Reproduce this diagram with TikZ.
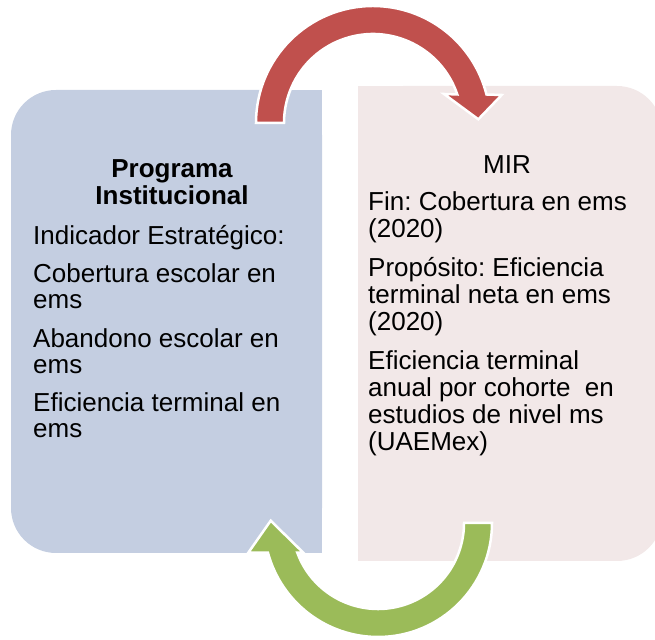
\documentclass[tikz,border=0pt]{standalone}
\usepackage{fontspec}
\setmainfont{Liberation Sans}
\frenchspacing
\definecolor{progblue}{RGB}{196,206,225}
\definecolor{mirpink}{RGB}{242,232,232}
\definecolor{arrowred}{RGB}{192,80,77}
\definecolor{arrowgreen}{RGB}{155,187,89}
\tikzset{
  panel/.style = {rounded corners=45pt},
  cyclearrow/.style = {draw=white, line width=2.5pt, line join=miter},
  headtext/.style = {font=\fontsize{26}{27}\selectfont, align=center, inner sep=0pt, anchor=base},
  bodytext/.style = {align=left, inner sep=0pt, anchor=base west},
}

\begin{document}
\begin{tikzpicture}[x=1pt, y=1pt]
\clip (0,0) rectangle (655,639);

% Programa Institucional panel (left, rounded on the left)
\fill[progblue, panel] (11,86) rectangle (322,549);
\fill[progblue] (200,86) rectangle (322,549);

% MIR panel (right, rounded on the right)
\fill[mirpink, panel] (358,78) rectangle (662,553);
\fill[mirpink] (358,78) rectangle (500,553);

% texts (base = last line)
\node[headtext, font=\fontsize{26}{27}\selectfont\bfseries] (proghead) at (172,434) {Programa\\Institucional};
\node[bodytext, font=\fontsize{26}{26.3}\selectfont] (progbody) at (33,201)
  {Indicador Estratégico:\\[12pt]
   Cobertura escolar en\\ems\\[12pt]
   Abandono escolar en\\ems\\[12pt]
   Eficiencia terminal en\\ems};

\node[headtext] (mirhead) at (507,465) {MIR};
\node[bodytext, font=\fontsize{26}{27}\selectfont] (mirbody) at (368,188)
  {Fin: Cobertura en ems\\(2020)\\[12pt]
   Propósito: Eficiencia\\terminal neta en ems\\(2020)\\[12pt]
   Eficiencia terminal\\anual por cohorte~ en\\estudios de nivel ms\\(UAEMex)};

% Top arrow: left to right
\coordinate (redc) at (373,516);
\filldraw[cyclearrow, fill=arrowred]
  (256,516) arc[start angle=180, end angle=14.1, radius=117]
  -- (501.7,544) -- (478.3,519.7) -- (444,545)
  -- ([shift={(redc)}]18.7:89) arc[start angle=18.7, end angle=180, radius=89]
  -- cycle;

% Bottom arrow: right to left
\coordinate (greenc) at (378,116);
\filldraw[cyclearrow, fill=arrowgreen]
  (492,116) arc[start angle=0, end angle=-164.9, radius=114]
  -- (248.3,86.3) -- (270.7,118.3) -- (303.3,86.3)
  -- ([shift={(greenc)}]-159.8:86) arc[start angle=-159.8, end angle=0, radius=86]
  -- cycle;

\end{tikzpicture}
\end{document}
